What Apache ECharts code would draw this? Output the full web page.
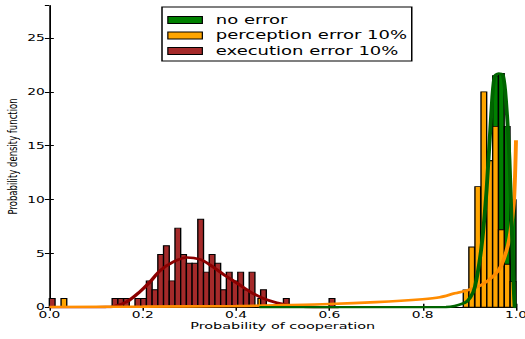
<!DOCTYPE html>
<html>
<head>
<meta charset="utf-8">
<script src="https://cdn.jsdelivr.net/npm/echarts@6/dist/echarts.min.js"></script>
<style>
  html, body { margin: 0; padding: 0; background: #fff; overflow: hidden; }
  /* drawn at 350px wide and widened 1.5x horizontally */
  #chart { width: 350px; height: 339px; transform: scaleX(1.5); transform-origin: 0 0; }
</style>
</head>
<body>
<div id="chart"></div>
<script>
// ---- histogram bins (density) ----
const execStart = 0;
const execWidth = 0.012236;
const execHeights = [0.82, 0, 0, 0, 0, 0, 0, 0, 0, 0, 0,
  0.82, 0.82, 0.82, 0, 0.82, 0.82, 2.45, 1.63, 4.90, 5.72,
  2.45, 7.35, 4.90, 4.09, 4.09, 8.17, 3.27, 4.90, 4.09, 1.63,
  3.27, 2.45, 3.27, 1.63, 3.27, 0, 1.63, 0, 0, 0,
  0.82, 0, 0, 0, 0, 0, 0, 0, 0.82];

const percWidth = 0.0122;
const percLeft = [0.0251, 0.4470, 0.8870, 0.8990, 0.9120, 0.9250, 0.9375, 0.9500, 0.9625, 0.9750, 0.9875];
const percHeight = [0.82, 0.82, 1.6, 5.6, 11.2, 20.0, 13.6, 16.8, 7.2, 4.0, 2.4];

const noErrWidth = 0.0122;
const noErrLeft = [0.9375, 0.9500, 0.9625, 0.9750, 0.9878];
const noErrHeight = [13.6, 21.5, 21.7, 16.8, 10.0];

// ---- density curves ----
const execCurveX = [0, 0.08, 0.12, 0.136, 0.166, 0.194, 0.216, 0.237, 0.266, 0.295, 0.323, 0.344, 0.373, 0.401, 0.43, 0.458, 0.487, 0.515, 0.544, 0.58, 0.62];
const execCurveY = [0, 0, 0.02, 0.06, 0.52, 1.45, 2.37, 3.40, 4.23, 4.63, 4.45, 3.95, 3.06, 2.28, 1.45, 0.83, 0.43, 0.19, 0.06, 0.01, 0];

const percCurveX = [0, 0.2, 0.4, 0.5, 0.6, 0.7, 0.8, 0.837, 0.869, 0.897, 0.926, 0.954, 0.969, 0.983, 0.99, 0.996, 1.0];
const percCurveY = [0.03, 0.06, 0.12, 0.2, 0.3, 0.48, 0.75, 0.93, 1.3, 1.6, 2.07, 3.0, 3.92, 5.8, 7.6, 10.1, 15.5];

const noErrCurveX = [0.45, 0.85, 0.89, 0.902, 0.912, 0.926, 0.937, 0.947, 0.954, 0.963, 0.972, 0.979, 0.986, 0.992, 0.997, 1.0];
const noErrCurveY = [0, 0.02, 0.4, 0.9, 1.9, 5.6, 10.9, 18.0, 21.4, 21.7, 21.55, 18.9, 13.7, 5.9, 0.06, 0];

// ---- axes ----
const xTickLabels = ['0.0', '0.2', '0.4', '0.6', '0.8', '1.0'];
const yTickLabels = ['0', '5', '10', '15', '20', '25'];

const names = ['no error', 'perception error 10%', 'execution error 10%'];
const barColors = ['#008000', '#FFA500', '#A52A2A'];
const lineColors = ['#006400', '#FF8C00', '#8B0000'];

function bins(left, heights, width) {
  return left.map((l, i) => [l, l + width, heights[i]]).filter(d => d[2] > 0);
}
const execLeft = execHeights.map((_, i) => execStart + i * execWidth);

function histSeries(name, data, color) {
  return {
    type: 'custom',
    name: name,
    data: data,
    encode: { x: [0, 1], y: 2 },
    itemStyle: { color: color },
    renderItem: function (params, api) {
      const p0 = api.coord([api.value(0), api.value(2)]);
      const p1 = api.coord([api.value(1), 0]);
      return {
        type: 'rect',
        shape: { x: p0[0], y: p0[1], width: p1[0] - p0[0], height: p1[1] - p0[1] },
        style: { fill: color, stroke: '#000', lineWidth: 0.9 }
      };
    }
  };
}

function curve(xs, ys, color) {
  return {
    type: 'line',
    data: xs.map((x, i) => [x, ys[i]]),
    smooth: 0.3,
    showSymbol: false,
    lineStyle: { color: color, width: 2.6 },
    silent: true,
    z: 5
  };
}

const font = 'DejaVu Sans';
const chart = echarts.init(document.getElementById('chart'), null, { renderer: 'svg' });
chart.setOption({
  animation: false,
  backgroundColor: '#fff',
  grid: { left: 32.9, right: 6, top: 5.7, bottom: 31.7, outerBoundsMode: 'none', containLabel: false },
  legend: {
    orient: 'vertical',
    left: 108,
    top: 7,
    data: names,
    itemWidth: 23,
    itemHeight: 7,
    itemGap: 3.5,
    padding: [7, 3, 4, 3.5],
    borderColor: '#000',
    borderWidth: 1,
    backgroundColor: '#fff',
    icon: 'rect',
    itemStyle: { borderColor: '#000', borderWidth: 0.8 },
    textStyle: { fontFamily: font, fontSize: 12, color: '#000', padding: [0, 0, 0, 4] },
    selectedMode: false
  },
  xAxis: [{
    type: 'value', min: 0, max: 1, interval: 0.2,
    name: 'Probability of cooperation', nameLocation: 'middle', nameGap: 14,
    nameMoveOverlap: false,
    nameTextStyle: { fontFamily: font, fontSize: 9.6, color: '#000' },
    axisLine: { lineStyle: { color: '#000', width: 1 } },
    axisTick: { inside: true, length: 3.5, lineStyle: { color: '#000' } },
    axisLabel: { fontFamily: font, fontSize: 9.2, color: '#000', margin: 3,
      formatter: v => xTickLabels[Math.round(v / 0.2)] },
    splitLine: { show: false }
  }, {
    type: 'value', min: 0, max: 1, interval: 0.2, position: 'top',
    axisLine: { lineStyle: { color: '#000', width: 1 } },
    axisTick: { inside: true, length: 3.5, lineStyle: { color: '#000' } },
    axisLabel: { show: false }, splitLine: { show: false }
  }],
  yAxis: [{
    type: 'value', min: 0, max: 28, interval: 5,
    name: 'Probability density function', nameLocation: 'middle', nameGap: 19.5,
    nameMoveOverlap: false,
    nameTextStyle: { fontFamily: font, fontSize: 8.5, color: '#000' },
    axisLine: { lineStyle: { color: '#000', width: 1 } },
    axisTick: { inside: true, length: 3, lineStyle: { color: '#000' } },
    axisLabel: { fontFamily: font, fontSize: 9.2, color: '#000', margin: 3, showMaxLabel: false,
      formatter: v => (v % 5 === 0 ? yTickLabels[v / 5] : '') },
    splitLine: { show: false }
  }, {
    type: 'value', min: 0, max: 28, interval: 5, position: 'right',
    axisLine: { show: true, lineStyle: { color: '#000', width: 1 } },
    axisTick: { inside: true, length: 3, lineStyle: { color: '#000' } },
    axisLabel: { show: false }, splitLine: { show: false }
  }],
  series: [
    histSeries(names[0], bins(noErrLeft, noErrHeight, noErrWidth), barColors[0]),
    histSeries(names[1], bins(percLeft, percHeight, percWidth), barColors[1]),
    histSeries(names[2], bins(execLeft, execHeights, execWidth), barColors[2]),
    curve(execCurveX, execCurveY, lineColors[2]),
    curve(percCurveX, percCurveY, lineColors[1]),
    curve(noErrCurveX, noErrCurveY, lineColors[0])
  ]
});
</script>
</body>
</html>
